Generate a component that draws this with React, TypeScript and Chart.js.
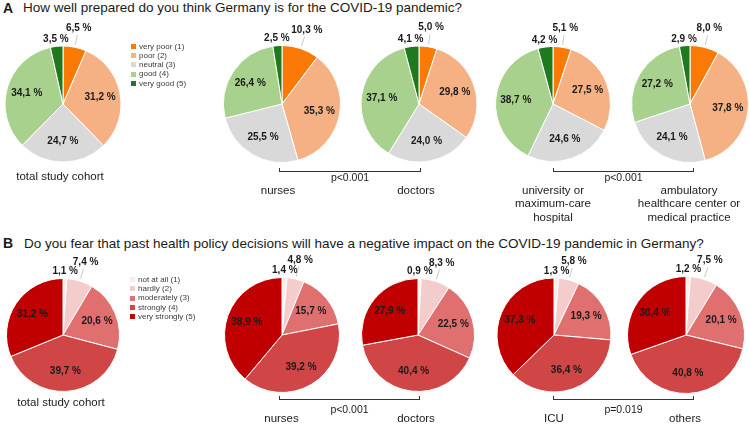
import React, { useEffect, useRef } from "react";
import { Chart, registerables } from "chart.js";

Chart.register(...registerables);

// ---------- data ----------
const preparednessCategories = ["very poor (1)", "poor (2)", "neutral (3)", "good (4)", "very good (5)"];
const fearCategories = ["not at all (1)", "hardly (2)", "moderately (3)", "strongly (4)", "very strongly (5)"];

const prepTotal = [6.5, 31.2, 24.7, 34.1, 3.5];
const prepNurses = [10.3, 35.3, 25.5, 26.4, 2.5];
const prepDoctors = [5.0, 29.8, 24.0, 37.1, 4.1];
const prepUniversity = [5.1, 27.5, 24.6, 38.7, 4.2];
const prepAmbulatory = [8.0, 37.8, 24.1, 27.2, 2.9];

const fearTotal = [1.1, 7.4, 20.6, 39.7, 31.2];
const fearNurses = [1.4, 4.8, 15.7, 39.2, 38.9];
const fearDoctors = [0.9, 8.3, 22.5, 40.4, 27.9];
const fearICU = [1.3, 5.8, 19.3, 36.4, 37.3];
const fearOthers = [1.2, 7.5, 20.1, 40.8, 30.4];

const titleA = "How well prepared do you think Germany is for the COVID-19 pandemic?";
const titleB = "Do you fear that past health policy decisions will have a negative impact on the COVID-19 pandemic in Germany?";

const groupLabelsA = ["total study cohort", "nurses", "doctors", "university or\nmaximum-care\nhospital", "ambulatory\nhealthcare center or\nmedical practice"];
const groupLabelsB = ["total study cohort", "nurses", "doctors", "ICU", "others"];
const pValuesA = ["p<0.001", "p<0.001"];
const pValuesB = ["p<0.001", "p=0.019"];

// ---------- styles ----------
const prepColors = ["#fb7a06", "#f5b183", "#d9d9d9", "#a9d18e", "#1f7a1f"];
const fearColors = ["#fbebeb", "#f4cccc", "#e07070", "#d04545", "#c00000"];
const FONT = "'Liberation Sans', Arial, Helvetica, sans-serif";

const sliceLabelPlugin = {
  id: "sliceLabels",
  afterDatasetsDraw(chart: any) {
    const ctx = chart.ctx;
    const meta = chart.getDatasetMeta(0);
    const data = chart.data.datasets[0].data as number[];
    const small = data
      .map((v, i) => ({ v, i }))
      .filter((d) => d.v < 11)
      .sort((a, b) => a.v - b.v);
    const far = new Set<number>(small.length > 1 ? [small[small.length - 1].i] : []);
    meta.data.forEach((arc: any, i: number) => {
      const p = arc.getProps(["x", "y", "startAngle", "endAngle", "outerRadius"], true);
      const mid = (p.startAngle + p.endAngle) / 2;
      const c = Math.cos(mid);
      const s = Math.sin(mid);
      const txt = data[i].toFixed(1).replace(".", ",") + " %";
      ctx.save();
      let R: number;
      if (data[i] >= 11) {
        R = p.outerRadius * 0.65;
      } else if (far.has(i)) {
        R = p.outerRadius + 19.5;
        ctx.strokeStyle = "#c8c8c8";
        ctx.lineWidth = 1;
        ctx.beginPath();
        ctx.moveTo(p.x + (p.outerRadius + 2.5) * c, p.y + (p.outerRadius + 2.5) * s);
        ctx.lineTo(p.x + (p.outerRadius + 12.5) * c, p.y + (p.outerRadius + 12.5) * s);
        ctx.stroke();
      } else {
        R = p.outerRadius + 7;
      }
      ctx.font = "bold 10px " + FONT;
      ctx.textAlign = "center";
      ctx.textBaseline = "middle";
      ctx.fillStyle = "#1a1a1a";
      ctx.fillText(txt, p.x + R * c, p.y + R * s);
      ctx.restore();
    });
  },
};

const SIZE = 190;

function Pie({ values, labels, colors, cx, cy, r }: { values: number[]; labels: string[]; colors: string[]; cx: number; cy: number; r: number }) {
  const ref = useRef<HTMLCanvasElement>(null);
  useEffect(() => {
    if (!ref.current) return;
    const chart = new Chart(ref.current, {
      type: "pie",
      data: {
        labels,
        datasets: [
          {
            data: values,
            backgroundColor: colors,
            borderColor: "#ffffff",
            borderWidth: 1,
            hoverOffset: 0,
          },
        ],
      },
      options: {
        responsive: false,
        maintainAspectRatio: false,
        animation: false,
        radius: r,
        layout: { padding: 0 },
        events: [],
        plugins: { legend: { display: false }, tooltip: { enabled: false }, title: { display: false } },
      } as any,
      plugins: [sliceLabelPlugin],
    });
    return () => chart.destroy();
  }, []);
  return (
    <canvas
      ref={ref}
      width={SIZE}
      height={SIZE}
      style={{ position: "absolute", left: cx - SIZE / 2, top: cy - SIZE / 2, width: SIZE, height: SIZE }}
    />
  );
}

function Txt({ x, y, text, size, align = "center", bold = false, color = "#1a1a1a" }: any) {
  const style: any = {
    position: "absolute",
    top: y - 0.8465 * size,
    fontSize: size,
    lineHeight: size + "px",
    fontFamily: FONT,
    fontWeight: bold ? 700 : 400,
    color,
    whiteSpace: "pre",
  };
  if (align === "center") {
    style.left = x - 150;
    style.width = 300;
    style.textAlign = "center";
  } else {
    style.left = x;
  }
  return <div style={style}>{text}</div>;
}

function MultiTxt({ x, y, text, size, gap }: any) {
  return (
    <>
      {String(text)
        .split("\n")
        .map((line: string, k: number) => (
          <Txt key={k} x={x} y={y + k * gap} text={line} size={size} />
        ))}
    </>
  );
}

function Bracket({ x1, x2, y, p, py }: any) {
  return (
    <>
      <div
        style={{
          position: "absolute",
          left: x1,
          top: y - 4,
          width: x2 - x1 - 2,
          height: 3,
          borderLeft: "1px solid #333",
          borderRight: "1px solid #333",
          borderBottom: "1px solid #333",
        }}
      />
      <Txt x={(x1 + x2) / 2} y={py} text={p} size={10.5} />
    </>
  );
}

function Legend({ x, y, items, colors }: any) {
  return (
    <>
      {items.map((it: string, k: number) => (
        <React.Fragment key={k}>
          <div style={{ position: "absolute", left: x, top: y + k * 9.3 - 2.5, width: 5, height: 5, background: colors[k] }} />
          <Txt x={x + 8} y={y + k * 9.3 + 3} text={it} size={8} align="left" color="#3a3a3a" />
        </React.Fragment>
      ))}
    </>
  );
}

const pieCentersA = [
  [63, 104, 58],
  [282, 104, 58.5],
  [418.5, 104, 58],
  [552.5, 104, 57.5],
  [689.5, 104, 58.5],
];
const pieCentersB = [
  [63, 334.5, 56.5],
  [281.5, 334.5, 57.5],
  [418, 334.5, 56.5],
  [554, 335, 57],
  [686, 335, 58.5],
];

export default function App() {
  const prepSets = [prepTotal, prepNurses, prepDoctors, prepUniversity, prepAmbulatory];
  const fearSets = [fearTotal, fearNurses, fearDoctors, fearICU, fearOthers];
  return (
    <div style={{ position: "absolute", left: 0, top: 0, width: 750, height: 424, background: "#fff", overflow: "hidden" }}>
      <Txt x={3} y={12.4} text="A" size={14} align="left" bold />
      <Txt x={23} y={12.4} text={titleA} size={13.5} align="left" />
      <Txt x={3} y={248} text="B" size={14} align="left" bold />
      <Txt x={24} y={248} text={titleB} size={13.5} align="left" />

      {prepSets.map((vals, k) => (
        <Pie key={"a" + k} values={vals} labels={preparednessCategories} colors={prepColors} cx={pieCentersA[k][0]} cy={pieCentersA[k][1]} r={pieCentersA[k][2]} />
      ))}
      {fearSets.map((vals, k) => (
        <Pie key={"b" + k} values={vals} labels={fearCategories} colors={fearColors} cx={pieCentersB[k][0]} cy={pieCentersB[k][1]} r={pieCentersB[k][2]} />
      ))}

      <Legend x={131} y={46.3} items={preparednessCategories} colors={prepColors} />
      <Legend x={130} y={279.5} items={fearCategories} colors={fearColors} />

      <Txt x={60} y={181} text={groupLabelsA[0]} size={11.5} />
      <Txt x={278} y={195} text={groupLabelsA[1]} size={11.5} />
      <Txt x={416} y={195} text={groupLabelsA[2]} size={11.5} />
      <MultiTxt x={553} y={194.5} text={groupLabelsA[3]} size={11.5} gap={13.5} />
      <MultiTxt x={689} y={194.5} text={groupLabelsA[4]} size={11.5} gap={13.5} />
      <Bracket x1={279} x2={421} y={172} p={pValuesA[0]} py={181} />
      <Bracket x1={553} x2={694} y={172} p={pValuesA[1]} py={181} />

      <Txt x={61} y={407} text={groupLabelsB[0]} size={11.5} />
      <Txt x={281.5} y={423} text={groupLabelsB[1]} size={11.5} />
      <Txt x={416} y={423} text={groupLabelsB[2]} size={11.5} />
      <Txt x={554} y={422.5} text={groupLabelsB[3]} size={11.5} />
      <Txt x={685} y={423} text={groupLabelsB[4]} size={11.5} />
      <Bracket x1={279} x2={420} y={400} p={pValuesB[0]} py={413} />
      <Bracket x1={553} x2={694} y={400} p={pValuesB[1]} py={413} />
    </div>
  );
}
